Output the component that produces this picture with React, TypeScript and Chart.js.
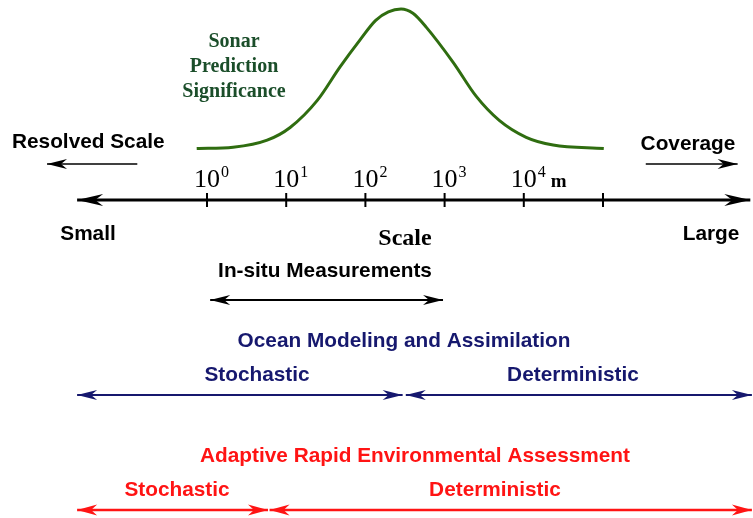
import React, { useEffect, useRef } from "react";
import { Chart, registerables } from "chart.js";

Chart.register(...registerables);

// ---- data (x in log10 metres, "decades") ----
const curveDecades = [-0.13, 0.33, 0.76, 1.05, 1.39, 1.68, 1.93, 2.13, 2.29, 2.45, 2.6, 2.77, 3.11, 3.4, 3.69, 4.03, 4.37, 5.01];
const curveSignificance = [0.01, 0.02, 0.07, 0.16, 0.35, 0.59, 0.78, 0.92, 0.98, 1.0, 0.97, 0.87, 0.62, 0.38, 0.21, 0.09, 0.035, 0.01];
const tickDecades = [0, 1, 2, 3, 4, 5];
const tickExponents = ["0", "1", "2", "3", "4"];
const unitLabel = "m";
const axisRange = [-1.64, 6.86];
const inSituRange = [0.04, 2.98];
const oceanStochastic = [-1.64, 2.47];
const oceanDeterministic = [2.51, 6.88];
const areaStochastic = [-1.64, 0.77];
const areaDeterministic = [0.79, 6.88];
const resolvedArrow = [-0.88, -2.02];
const coverageArrow = [5.54, 6.7];

// ---- layout (pixel rows) ----
const ROW_AXIS = 200;
const ROW_SMALL_ARROWS = 164;
const ROW_INSITU = 300;
const ROW_OCEAN = 395;
const ROW_AREA = 510;

const NAVY = "#16186e";
const RED = "#ff1414";
const GREEN_LINE = "#2f6d10";
const GREEN_TEXT = "#1b4e2a";
const SANS = "'Liberation Sans', Arial, sans-serif";
const SERIF = "'Liberation Serif', 'Times New Roman', serif";
const SANS_BOLD = `bold 20.8px ${SANS}`;

function seg(range: number[], row: number, color: string, width: number, head: number[], both: boolean) {
  return {
    type: "line" as const,
    data: range.map((x) => ({ x, y: row })),
    borderColor: color,
    borderWidth: width,
    pointRadius: 0,
    yAxisID: "y",
    arrow: { start: both, end: true, len: head[0], half: head[1], notch: head[2], color },
  };
}

function drawHead(ctx: CanvasRenderingContext2D, tx: number, ty: number, fx: number, fy: number, len: number, half: number, notch: number, color: string) {
  const dx = tx - fx, dy = ty - fy;
  const L = Math.hypot(dx, dy) || 1;
  const ux = dx / L, uy = dy / L;
  const px = -uy, py = ux;
  ctx.save();
  ctx.fillStyle = color;
  ctx.beginPath();
  ctx.moveTo(tx, ty);
  ctx.lineTo(tx - ux * len + px * half, ty - uy * len + py * half);
  ctx.lineTo(tx - ux * (len - notch), ty - uy * (len - notch));
  ctx.lineTo(tx - ux * len - px * half, ty - uy * len - py * half);
  ctx.closePath();
  ctx.fill();
  ctx.restore();
}

const arrowPlugin = {
  id: "arrows",
  afterDatasetsDraw(chart: any) {
    const ctx = chart.ctx;
    chart.data.datasets.forEach((ds: any, i: number) => {
      if (!ds.arrow) return;
      const pts = chart.getDatasetMeta(i).data;
      if (pts.length < 2) return;
      const a = ds.arrow;
      const p0 = pts[0], p1 = pts[pts.length - 1];
      if (a.end) drawHead(ctx, p1.x, p1.y, p0.x, p0.y, a.len, a.half, a.notch, a.color);
      if (a.start) drawHead(ctx, p0.x, p0.y, p1.x, p1.y, a.len, a.half, a.notch, a.color);
    });
  },
};

type Label = { text: string; x: number; y: number; font: string; color: string; align?: CanvasTextAlign };
const labels: Label[] = [
  { text: "Sonar", x: 234, y: 47, font: `bold 20px ${SERIF}`, color: GREEN_TEXT },
  { text: "Prediction", x: 234, y: 72, font: `bold 20px ${SERIF}`, color: GREEN_TEXT },
  { text: "Significance", x: 234, y: 97, font: `bold 20px ${SERIF}`, color: GREEN_TEXT },
  { text: "Resolved Scale", x: 12, y: 148, font: SANS_BOLD, color: "#000", align: "left" },
  { text: "Coverage", x: 688, y: 150, font: SANS_BOLD, color: "#000" },
  { text: "Small", x: 88, y: 240, font: SANS_BOLD, color: "#000" },
  { text: "Scale", x: 405, y: 245, font: `bold 24px ${SERIF}`, color: "#000" },
  { text: "Large", x: 711, y: 240, font: SANS_BOLD, color: "#000" },
  { text: "In-situ Measurements", x: 325, y: 277, font: SANS_BOLD, color: "#000" },
  { text: "Ocean Modeling and Assimilation", x: 404, y: 347, font: SANS_BOLD, color: NAVY },
  { text: "Stochastic", x: 257, y: 381, font: SANS_BOLD, color: NAVY },
  { text: "Deterministic", x: 573, y: 381, font: SANS_BOLD, color: NAVY },
  { text: "Adaptive Rapid Environmental Assessment", x: 415, y: 462, font: SANS_BOLD, color: RED },
  { text: "Stochastic", x: 177, y: 496, font: SANS_BOLD, color: RED },
  { text: "Deterministic", x: 495, y: 496, font: SANS_BOLD, color: RED },
];

const textPlugin = {
  id: "texts",
  afterDraw(chart: any) {
    const ctx = chart.ctx as CanvasRenderingContext2D;
    const xs = chart.scales.x;
    const ys = chart.scales.y;
    ctx.save();
    ctx.textBaseline = "alphabetic";
    labels.forEach((l) => {
      ctx.font = l.font;
      ctx.fillStyle = l.color;
      ctx.textAlign = l.align || "center";
      ctx.fillText(l.text, l.x, l.y);
    });
    // tick labels 10^n
    const base = ys.getPixelForValue(ROW_AXIS - 13);
    tickExponents.forEach((e, i) => {
      const cx = xs.getPixelForValue(tickDecades[i]);
      ctx.font = `26px ${SERIF}`;
      ctx.fillStyle = "#000";
      ctx.textAlign = "center";
      ctx.fillText("10", cx, base);
      const w = ctx.measureText("10").width;
      ctx.font = `16px ${SERIF}`;
      ctx.textAlign = "left";
      ctx.fillText(e, cx + w / 2 + 1, base - 10);
      if (i === tickExponents.length - 1) {
        const ew = ctx.measureText(e).width;
        ctx.font = `bold 19px ${SERIF}`;
        ctx.fillText(unitLabel, cx + w / 2 + ew + 6, base);
      }
    });
    ctx.restore();
  },
};

export default function App() {
  const ref = useRef<HTMLCanvasElement>(null);
  useEffect(() => {
    document.body.style.margin = "0";
    const chart = new Chart(ref.current!, {
      type: "line",
      data: {
        datasets: [
          {
            type: "line",
            data: curveDecades.map((x, i) => ({ x, y: curveSignificance[i] })),
            borderColor: GREEN_LINE,
            borderWidth: 3,
            pointRadius: 0,
            cubicInterpolationMode: "monotone",
            yAxisID: "sig",
          } as any,
          seg(axisRange, ROW_AXIS, "#000", 3, [26, 6, 8], true),
          {
            type: "scatter",
            data: tickDecades.map((x) => ({ x, y: ROW_AXIS })),
            pointStyle: "line",
            rotation: 90,
            pointRadius: 7,
            borderColor: "#000",
            borderWidth: 2,
            yAxisID: "y",
          } as any,
          seg(resolvedArrow, ROW_SMALL_ARROWS, "#000", 1.6, [20, 5, 6], false),
          seg(coverageArrow, ROW_SMALL_ARROWS, "#000", 1.6, [20, 5, 6], false),
          seg(inSituRange, ROW_INSITU, "#000", 1.8, [20, 5, 6], true),
          seg(oceanStochastic, ROW_OCEAN, NAVY, 2, [20, 5, 6], true),
          seg(oceanDeterministic, ROW_OCEAN, NAVY, 2, [20, 5, 6], true),
          seg(areaStochastic, ROW_AREA, RED, 2.5, [20, 5.5, 6], true),
          seg(areaDeterministic, ROW_AREA, RED, 2.5, [20, 5.5, 6], true),
        ] as any,
      },
      options: {
        animation: false,
        responsive: true,
        maintainAspectRatio: false,
        clip: false,
        layout: { padding: 0, autoPadding: false },
        plugins: { legend: { display: false }, tooltip: { enabled: false } },
        scales: {
          x: { type: "linear", min: -207 / 79.2, max: (753 - 207) / 79.2, display: false },
          y: { type: "linear", min: 0, max: 518, reverse: true, display: false },
          sig: { type: "linear", min: -2.61, max: 1.064, display: false },
        },
      },
      plugins: [arrowPlugin, textPlugin],
    } as any);
    return () => chart.destroy();
  }, []);
  return (
    <div style={{ position: "fixed", left: 0, top: 0, width: 753, height: 518, background: "#fff" }}>
      <canvas ref={ref} />
    </div>
  );
}
